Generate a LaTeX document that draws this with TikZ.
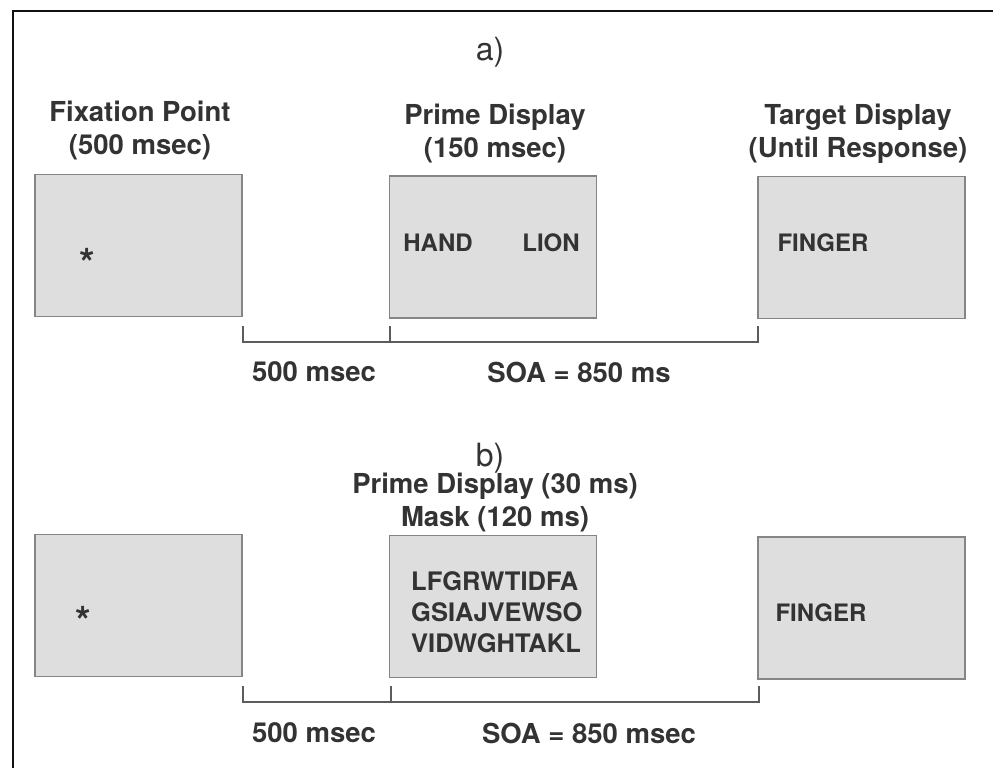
\documentclass[tikz,border=0pt]{standalone}
\usepackage{fontspec}
\setmainfont{TeX Gyre Heros}
\usepackage{tikz}
\usetikzlibrary{calc,positioning}
\definecolor{tinta}{HTML}{333333}
\definecolor{borde}{HTML}{858585}
\definecolor{fondo}{HTML}{DEDEDE}
\definecolor{marco}{HTML}{111111}
\tikzset{
  pantalla/.style={rectangle,draw=borde,fill=fondo,line width=1.4pt,minimum width=207pt,minimum height=142pt,inner sep=0pt},
  rotulo/.style={font=\fontsize{27.5}{33}\selectfont\bfseries,text=tinta,align=center,inner sep=0pt},
  palabra/.style={font=\fontsize{24}{30}\selectfont\bfseries,text=tinta,inner sep=0pt},
  mascara/.style={font=\fontsize{25.5}{31}\selectfont\bfseries,text=tinta,inner sep=0pt,align=left,anchor=west},
  estrella/.style={font=\fontsize{40}{40}\selectfont\bfseries,text=tinta,inner sep=0pt,anchor=base},
  panel/.style={font=\fontsize{32}{36}\selectfont,text=tinta,inner sep=0pt},
  tiempo/.style={draw=tinta!80,line width=1.3pt},
  borde marco/.style={draw=marco,line width=2.6pt},
}

\begin{document}
\begin{tikzpicture}[x=1pt,y=-1pt]
\useasboundingbox (0,0) rectangle (993,768);
\fill[white] (0,0) rectangle (993,768);
% marco
\draw[borde marco] (13,768) -- (13,11) -- (993,11);
% a)
\node[panel] (pa) at (490,52) {a)};
\node[pantalla] (fija) at (138.5,245.5) {};
\node[pantalla] (prima) at (493,247) {};
\node[pantalla] (meta) at (861.5,247.5) {};
\node[rotulo] (tfija) at (140,131) {Fixation Point\\(500 msec)};
\node[rotulo] (tprima) at (495,134) {Prime Display\\(150 msec)};
\node[rotulo] (tmeta) at (858,134) {Target Display\\(Until Response)};
\node[estrella] (astA) at (87,277) {*};
\node[palabra] (hand) at (438,243) {HAND};
\node[palabra] (lion) at (551,243) {LION};
\node[palabra] (fingA) at (823,243) {FINGER};
\coordinate (l1) at (243,342);
\coordinate (m1) at (390,342);
\coordinate (r1) at (758,342);
\draw[tiempo] ($(l1)+(0,-16)$) -- (l1) -- (r1) -- ($(r1)+(0,-16)$);
\draw[tiempo] ($(m1)+(0,-16)$) -- (m1);
\node[rotulo] (dA) at (314,372) {500 msec};
\node[rotulo] (soaA) at (579,372) {SOA = 850 ms};
% b)
\node[panel] (pb) at (490,458) {b)};
\node[rotulo] (tmasc) at (495,503) {Prime Display (30 ms)\\Mask (120 ms)};
\node[pantalla] (fijb) at (138.5,605.5) {};
\node[pantalla] (primb) at (493,606.5) {};
\node[pantalla] (metb) at (861.5,608) {};
\node[estrella] (astB) at (83,635) {*};
\node[mascara] (masc) at (411,612) {LFGRWTIDFA\\GSIAJVEWSO\\VIDWGHTAKL};
\node[palabra] (fingB) at (821,613) {FINGER};
\coordinate (l2) at (243,702);
\coordinate (m2) at (391,702);
\coordinate (r2) at (759,702);
\draw[tiempo] ($(l2)+(0,-16)$) -- (l2) -- (r2) -- ($(r2)+(0,-16)$);
\draw[tiempo] ($(m2)+(0,-16)$) -- (m2);
\node[rotulo] (dB) at (314,733) {500 msec};
\node[rotulo] (soaB) at (589,733) {SOA = 850 msec};
\end{tikzpicture}
\end{document}
